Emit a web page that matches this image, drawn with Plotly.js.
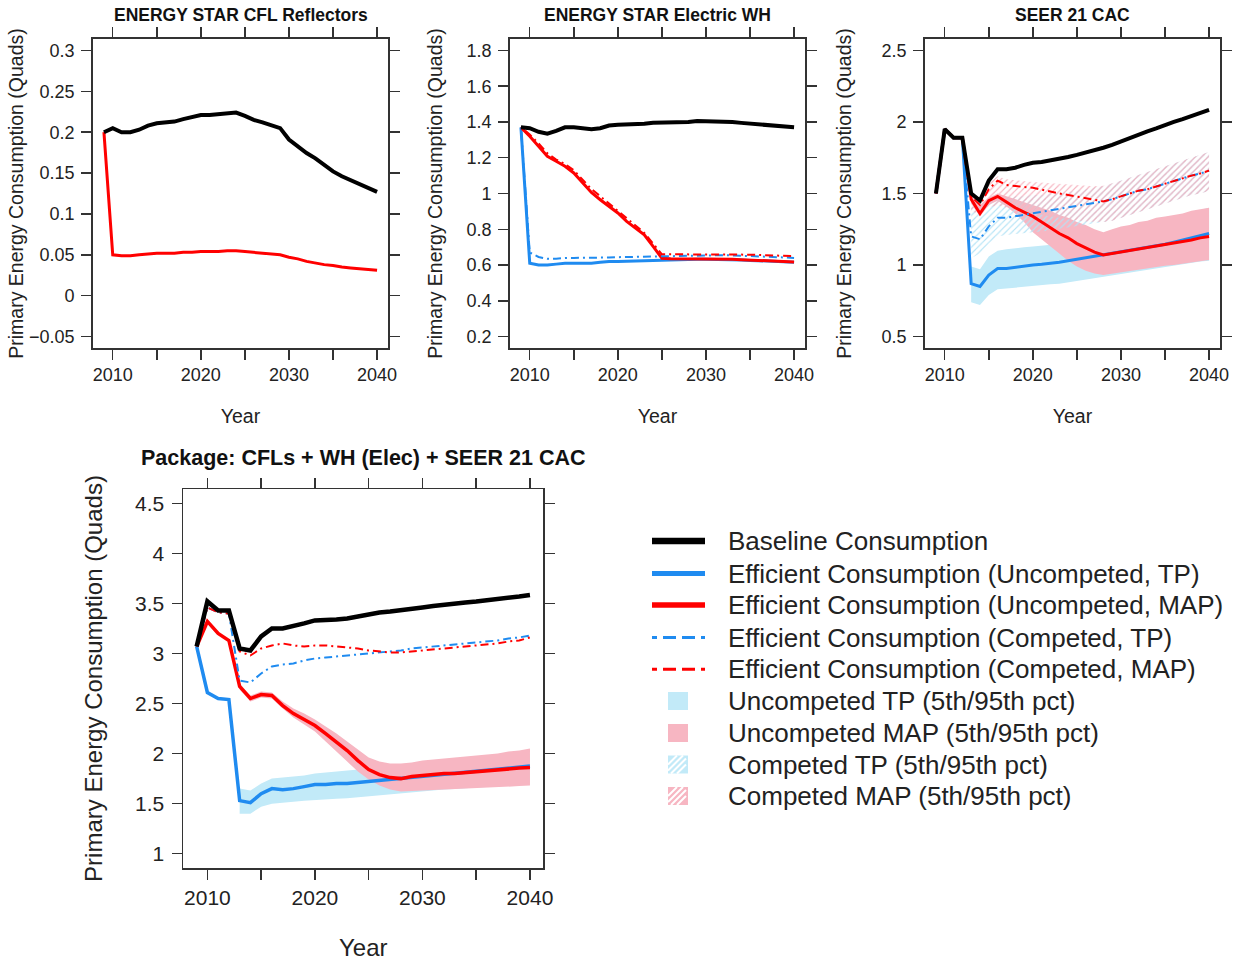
<!DOCTYPE html>
<html>
<head>
<meta charset="utf-8">
<script src="https://cdn.plot.ly/plotly-3.0.1.min.js"></script>
<style>html,body{margin:0;padding:0;background:#fff;}#chart{width:1237px;height:961px;}</style>
</head>
<body>
<div id="chart"></div>
<script>
// ---------------- DATA ----------------
const YEARS = [2009,2010,2011,2012,2013,2014,2015,2016,2017,2018,2019,2020,2021,2022,2023,2024,2025,2026,2027,2028,2029,2030,2031,2032,2033,2034,2035,2036,2037,2038,2039,2040];
const BAND_YEARS = [2013,2014,2015,2016,2017,2018,2019,2020,2021,2022,2023,2024,2025,2026,2027,2028,2029,2030,2031,2032,2033,2034,2035,2036,2037,2038,2039,2040];
const X_TICKS = [2010,2015,2020,2025,2030,2035,2040];
const X_LABELS = ['2010','','2020','','2030','','2040'];

const PANEL_TITLES = ['ENERGY STAR CFL Reflectors','ENERGY STAR Electric WH','SEER 21 CAC','Package: CFLs + WH (Elec) + SEER 21 CAC'];
const Y_TITLE = 'Primary Energy Consumption (Quads)';
const X_TITLE = 'Year';

// Panel 1: ENERGY STAR CFL Reflectors
const cfl_base = [0.2,0.205,0.2,0.2,0.203,0.208,0.211,0.212,0.213,0.216,0.219,0.221,0.221,0.222,0.222,0.224,0.22,0.215,0.212,0.208,0.205,0.191,0.182,0.1745,0.168,0.16,0.152,0.146,0.141,0.136,0.131,0.127];
const cfl_map  = [0.2,0.05,0.049,0.049,0.05,0.051,0.052,0.052,0.052,0.053,0.053,0.054,0.054,0.054,0.055,0.055,0.054,0.053,0.052,0.051,0.05,0.047,0.045,0.042,0.04,0.038,0.037,0.035,0.034,0.033,0.032,0.031];

// Panel 2: ENERGY STAR Electric WH
const wh_base = [1.37,1.365,1.345,1.335,1.35,1.37,1.37,1.365,1.36,1.365,1.38,1.385,1.385,1.39,1.39,1.395,1.395,1.395,1.4,1.4,1.405,1.405,1.405,1.4,1.4,1.395,1.39,1.385,1.38,1.375,1.37,1.37];
const wh_tp   = [1.37,0.61,0.6,0.6,0.605,0.61,0.61,0.61,0.61,0.615,0.62,0.62,0.62,0.622,0.624,0.626,0.628,0.63,0.63,0.632,0.632,0.632,0.632,0.63,0.63,0.628,0.626,0.624,0.622,0.62,0.618,0.616];
const wh_map  = [1.37,1.32,1.264,1.208,1.18,1.152,1.115,1.062,1.006,0.965,0.928,0.891,0.844,0.807,0.769,0.704,0.638,0.635,0.635,0.635,0.636,0.636,0.636,0.634,0.632,0.63,0.628,0.625,0.622,0.62,0.618,0.617];
const wh_ctp  = [1.37,0.67,0.645,0.635,0.635,0.64,0.64,0.64,0.638,0.64,0.642,0.644,0.645,0.646,0.647,0.648,0.65,0.652,0.654,0.655,0.656,0.656,0.656,0.655,0.654,0.652,0.65,0.648,0.646,0.644,0.642,0.64];
const wh_cmap = [1.37,1.33,1.28,1.225,1.19,1.165,1.13,1.08,1.025,0.985,0.945,0.905,0.86,0.82,0.78,0.72,0.66,0.66,0.66,0.66,0.662,0.662,0.662,0.662,0.66,0.66,0.658,0.656,0.655,0.654,0.652,0.65];

// Panel 3: SEER 21 CAC
const cac_base = [1.5,1.95,1.89,1.89,1.5,1.45,1.59,1.67,1.67,1.68,1.7,1.715,1.72,1.73,1.745,1.755,1.77,1.785,1.8,1.82,1.84,1.865,1.89,1.91,1.935,1.955,1.98,2.0,2.02,2.04,2.06,2.085];
const cac_tp   = [1.5,1.95,1.89,1.89,0.87,0.85,0.93,0.975,0.975,0.985,0.995,1.0,1.005,1.01,1.02,1.03,1.04,1.05,1.06,1.07,1.08,1.09,1.1,1.11,1.12,1.135,1.145,1.16,1.175,1.19,1.205,1.22];
const cac_map  = [1.5,1.95,1.89,1.89,1.46,1.36,1.45,1.48,1.44,1.4,1.37,1.34,1.3,1.26,1.22,1.19,1.15,1.12,1.09,1.07,1.08,1.09,1.1,1.11,1.12,1.13,1.14,1.15,1.165,1.175,1.19,1.2];
const cac_ctp  = [1.5,1.95,1.89,1.89,1.2,1.18,1.27,1.33,1.33,1.34,1.35,1.36,1.37,1.38,1.39,1.4,1.41,1.42,1.43,1.445,1.46,1.48,1.5,1.52,1.53,1.55,1.57,1.59,1.61,1.625,1.64,1.66];
const cac_cmap = [1.5,1.95,1.89,1.89,1.48,1.42,1.53,1.59,1.56,1.55,1.545,1.54,1.525,1.51,1.5,1.49,1.48,1.47,1.455,1.445,1.46,1.48,1.5,1.52,1.53,1.55,1.57,1.59,1.61,1.625,1.64,1.66];
const cac_tp_lo  = [0.74,0.72,0.79,0.83,0.835,0.84,0.845,0.85,0.86,0.865,0.87,0.875,0.885,0.895,0.905,0.915,0.925,0.935,0.945,0.955,0.965,0.975,0.985,0.995,1.005,1.015,1.025,1.03];
const cac_tp_hi  = [0.99,0.97,1.06,1.1,1.11,1.12,1.125,1.13,1.135,1.14,1.145,1.15,1.16,1.17,1.18,1.19,1.2,1.21,1.23,1.25,1.27,1.29,1.31,1.33,1.35,1.37,1.385,1.4];
const cac_map_lo = [1.43,1.34,1.42,1.45,1.41,1.36,1.3,1.23,1.18,1.13,1.08,1.03,0.99,0.96,0.94,0.93,0.935,0.945,0.955,0.965,0.975,0.985,0.995,1.0,1.01,1.02,1.025,1.035];
const cac_map_hi = [1.49,1.42,1.47,1.5,1.48,1.46,1.44,1.42,1.4,1.38,1.35,1.33,1.3,1.28,1.25,1.23,1.25,1.27,1.28,1.3,1.31,1.33,1.34,1.35,1.36,1.38,1.39,1.4];
const cac_ctp_lo  = [1.05,1.08,1.15,1.2,1.21,1.22,1.225,1.23,1.235,1.24,1.25,1.26,1.27,1.28,1.29,1.3,1.31,1.33,1.35,1.37,1.39,1.41,1.43,1.45,1.47,1.49,1.5,1.52];
const cac_ctp_hi  = [1.45,1.4,1.44,1.47,1.47,1.48,1.48,1.49,1.49,1.5,1.5,1.51,1.52,1.53,1.54,1.55,1.57,1.59,1.61,1.63,1.65,1.67,1.69,1.71,1.73,1.75,1.77,1.79];
const cac_cmap_lo = [1.38,1.35,1.4,1.42,1.4,1.39,1.37,1.36,1.35,1.34,1.33,1.32,1.31,1.305,1.3,1.3,1.31,1.33,1.35,1.37,1.39,1.41,1.43,1.45,1.47,1.49,1.5,1.52];
const cac_cmap_hi = [1.52,1.46,1.57,1.62,1.6,1.59,1.585,1.58,1.575,1.57,1.565,1.56,1.56,1.555,1.55,1.555,1.57,1.59,1.61,1.63,1.65,1.67,1.69,1.71,1.73,1.75,1.77,1.79];

// Panel 4: Package
const pkg_base = [3.07,3.52,3.43,3.43,3.05,3.03,3.17,3.25,3.25,3.27,3.3,3.33,3.33,3.34,3.35,3.37,3.4,3.41,3.42,3.43,3.445,3.46,3.475,3.49,3.5,3.51,3.52,3.53,3.54,3.555,3.57,3.585];
const pkg_tp   = [3.07,2.61,2.55,2.54,1.53,1.51,1.6,1.65,1.64,1.65,1.67,1.69,1.69,1.7,1.7,1.71,1.72,1.73,1.74,1.75,1.76,1.77,1.78,1.79,1.8,1.81,1.82,1.83,1.84,1.85,1.86,1.875];
const pkg_map  = [3.07,3.32,3.2,3.13,2.67,2.55,2.59,2.58,2.48,2.4,2.34,2.28,2.2,2.12,2.03,1.93,1.84,1.79,1.76,1.75,1.77,1.78,1.79,1.8,1.8,1.81,1.82,1.83,1.84,1.85,1.855,1.86];
const pkg_ctp  = [3.07,3.46,3.41,3.4,2.73,2.71,2.8,2.87,2.89,2.9,2.93,2.95,2.96,2.97,2.98,2.99,3.0,3.01,3.02,3.03,3.05,3.06,3.07,3.08,3.09,3.1,3.11,3.12,3.13,3.15,3.16,3.18];
const pkg_cmap = [3.07,3.46,3.41,3.4,3.02,2.98,3.05,3.08,3.1,3.08,3.07,3.08,3.08,3.07,3.06,3.05,3.03,3.02,3.01,3.01,3.02,3.03,3.04,3.05,3.06,3.07,3.08,3.09,3.1,3.12,3.13,3.16];
const pkg_tp_lo  = [1.4,1.4,1.47,1.5,1.51,1.52,1.53,1.54,1.545,1.55,1.555,1.56,1.57,1.58,1.59,1.6,1.61,1.62,1.63,1.64,1.645,1.65,1.66,1.665,1.67,1.68,1.69,1.7];
const pkg_tp_hi  = [1.65,1.63,1.7,1.75,1.76,1.77,1.78,1.8,1.81,1.82,1.83,1.84,1.85,1.86,1.87,1.88,1.89,1.9,1.91,1.92,1.93,1.94,1.95,1.96,1.97,1.98,1.99,2.0];
const pkg_map_lo = [2.64,2.52,2.56,2.55,2.45,2.36,2.29,2.22,2.12,2.02,1.92,1.82,1.74,1.68,1.64,1.62,1.625,1.63,1.635,1.64,1.645,1.65,1.655,1.66,1.665,1.67,1.675,1.68];
const pkg_map_hi = [2.7,2.58,2.62,2.61,2.52,2.45,2.4,2.34,2.27,2.2,2.12,2.04,1.96,1.92,1.9,1.9,1.91,1.93,1.94,1.95,1.96,1.97,1.98,1.99,2.0,2.02,2.03,2.05];

const LEGEND_LABELS = ['Baseline Consumption','Efficient Consumption (Uncompeted, TP)','Efficient Consumption (Uncompeted, MAP)','Efficient Consumption (Competed, TP)','Efficient Consumption (Competed, MAP)','Uncompeted TP (5th/95th pct)','Uncompeted MAP (5th/95th pct)','Competed TP (5th/95th pct)','Competed MAP (5th/95th pct)'];

// ---------------- STYLE ----------------
const BLACK = '#000000', BLUE = '#1f8bf0', RED = '#ff0000';
const LBLUE = '#c2eaf8', PINK = '#f7b6c2';
const HATCH_BLUE = '#b3e3f5', HATCH_PINK = '#f6b0bd';
const DASHDOT = '2px,4px,8px,4px';
const LEG_DASH = '5px,6px,13px,6px,13px,6px,4px';
const FONT = 'Liberation Sans, Arial, Helvetica, sans-serif';
const W = 1237, H = 961;
const fx = v => v / W, fy = v => 1 - v / H;

function line(ax, x, y, color, width, dash) {
  return {type:'scatter', mode:'lines', x:x, y:y, xaxis:'x'+ax, yaxis:'y'+ax,
    line:{color:color, width:width, dash:dash||'solid'}, hoverinfo:'skip', showlegend:false};
}
function band(ax, x, lo, hi, color, pattern) {
  const t = {type:'scatter', mode:'lines', x:x.concat(x.slice().reverse()), y:hi.concat(lo.slice().reverse()),
    xaxis:'x'+ax, yaxis:'y'+ax, fill:'toself', line:{width:0, color:'rgba(0,0,0,0)'},
    fillcolor: pattern ? 'rgba(0,0,0,0)' : color, hoverinfo:'skip', showlegend:false};
  if (pattern) t.fillpattern = {shape:'/', fgcolor:color, bgcolor:'rgba(0,0,0,0)', size:4.5, solidity:0.25};
  return t;
}
const ax1 = '', ax2 = '2', ax3 = '3', ax4 = '4';
const traces = [
  // panel 1
  line(ax1, YEARS, cfl_map, RED, 3),
  line(ax1, YEARS, cfl_base, BLACK, 4),
  // panel 2
  line(ax2, YEARS, wh_tp, BLUE, 3),
  line(ax2, YEARS, wh_map, RED, 3),
  line(ax2, YEARS, wh_ctp, BLUE, 2, DASHDOT),
  line(ax2, YEARS, wh_cmap, RED, 2, DASHDOT),
  line(ax2, YEARS, wh_base, BLACK, 4),
  // panel 3
  band(ax3, BAND_YEARS, cac_tp_lo, cac_tp_hi, LBLUE),
  band(ax3, BAND_YEARS, cac_map_lo, cac_map_hi, PINK),
  band(ax3, BAND_YEARS, cac_ctp_lo, cac_ctp_hi, HATCH_BLUE, true),
  band(ax3, BAND_YEARS, cac_cmap_lo, cac_cmap_hi, HATCH_PINK, true),
  line(ax3, YEARS, cac_tp, BLUE, 3),
  line(ax3, YEARS, cac_map, RED, 3),
  line(ax3, YEARS, cac_ctp, BLUE, 2, DASHDOT),
  line(ax3, YEARS, cac_cmap, RED, 2, DASHDOT),
  line(ax3, YEARS, cac_base, BLACK, 4),
  // panel 4
  band(ax4, BAND_YEARS, pkg_tp_lo, pkg_tp_hi, LBLUE),
  band(ax4, BAND_YEARS, pkg_map_lo, pkg_map_hi, PINK),
  line(ax4, YEARS, pkg_tp, BLUE, 3.5),
  line(ax4, YEARS, pkg_map, RED, 3.5),
  line(ax4, YEARS, pkg_ctp, BLUE, 2, DASHDOT),
  line(ax4, YEARS, pkg_cmap, RED, 2, DASHDOT),
  line(ax4, YEARS, pkg_base, BLACK, 4.5)
];

function xAxis(x0, x1, anchor, fs, tfs, standoff) {
  return {domain:[fx(x0), fx(x1)], anchor:anchor, range:[2007.76, 2041.24], tickmode:'array', tickvals:X_TICKS, ticktext:X_LABELS,
    ticks:'outside', ticklen:10, tickwidth:1.5, tickcolor:'#333', showline:true, linewidth:1.8, linecolor:'#333', mirror:'allticks',
    showgrid:false, zeroline:false, tickfont:{size:fs, color:'#222'}, ticklabelstandoff:0,
    title:{text:X_TITLE, font:{size:tfs, color:'#222'}, standoff:standoff}};
}
function yAxis(y0, y1, anchor, range, dtick, fs, tfs, standoff) {
  return {domain:[fy(y1), fy(y0)], anchor:anchor, range:range, tickmode:'linear', tick0:0, dtick:dtick,
    ticks:'outside', ticklen:10, tickwidth:1.5, tickcolor:'#333', showline:true, linewidth:1.8, linecolor:'#333', mirror:'allticks',
    showgrid:false, zeroline:false, tickfont:{size:fs, color:'#222'}, ticklabelstandoff:3,
    title:{text:Y_TITLE, font:{size:tfs, color:'#222'}, standoff:standoff}};
}

const layout = {
  width:W, height:H, margin:{l:0, r:0, t:0, b:0}, paper_bgcolor:'#fff', plot_bgcolor:'#fff',
  font:{family:FONT, color:'#222'}, showlegend:false,
  xaxis:  xAxis(93, 388, 'y', 18, 19.5, 25),
  yaxis:  yAxis(39, 348, 'x', [-0.064, 0.314], 0.05, 18, 19.5, 0),
  xaxis2: xAxis(510, 805, 'y2', 18, 19.5, 25),
  yaxis2: yAxis(39, 348, 'x2', [0.136, 1.864], 0.2, 18, 19.5, 19),
  xaxis3: xAxis(925, 1220, 'y3', 18, 19.5, 25),
  yaxis3: yAxis(39, 348, 'x3', [0.42, 2.58], 0.5, 18, 19.5, 25),
  xaxis4: xAxis(183.3, 543.3, 'y4', 21, 24, 36),
  yaxis4: yAxis(489.3, 867.7, 'x4', [0.86, 4.64], 0.5, 21, 24, 26),
  annotations:[], shapes:[]
};
// panel titles
const titlePos = [[240.5,15,17.5],[657.5,15,17.5],[1072.5,15,17.5],[363.3,458,21.5]];
PANEL_TITLES.forEach((t,i)=>{
  layout.annotations.push({text:'<b>'+t+'</b>', x:fx(titlePos[i][0]), y:fy(titlePos[i][1]), xref:'paper', yref:'paper',
    xanchor:'center', yanchor:'middle', showarrow:false, font:{size:titlePos[i][2], color:'#111'}});
});

// ---------------- LEGEND (drawn) ----------------
const rows = [541, 573.5, 605, 637.5, 669.3, 701, 733, 764.5, 796];
const legLines = [[BLACK,6.5,'solid'],[BLUE,5,'solid'],[RED,5.5,'solid'],[BLUE,3,LEG_DASH],[RED,3,LEG_DASH]];
LEGEND_LABELS.forEach((lab,i)=>{
  const y = rows[i];
  layout.annotations.push({text:lab, x:fx(726), y:fy(y), xref:'paper', yref:'paper', xanchor:'left', yanchor:'middle',
    showarrow:false, font:{size:26, color:'#222'}});
  if (i < 5) {
    const s = legLines[i];
    layout.shapes.push({type:'line', xref:'paper', yref:'paper', x0:fx(652), x1:fx(705), y0:fy(y), y1:fy(y),
      line:{color:s[0], width:s[1], dash:s[2]}});
  } else {
    const c = [LBLUE, PINK, LBLUE, PINK][i-5];
    const x0 = 668, x1 = 688, y0 = y-9, y1 = y+9;
    layout.shapes.push({type:'rect', xref:'paper', yref:'paper', x0:fx(x0), x1:fx(x1), y0:fy(y1), y1:fy(y0),
      fillcolor:c, line:{width:0}});
    if (i >= 7) {
      [-9, -3, 3, 9].forEach(o=>{
        const ax = x0 + Math.max(0, o), ay = y1 - Math.max(0, -o);
        const bx = x1 - Math.max(0, -o) - 2, by = y0 + Math.max(0, o);
        layout.shapes.push({type:'line', xref:'paper', yref:'paper', x0:fx(ax), y0:fy(ay), x1:fx(bx), y1:fy(by),
          line:{color:'#ffffff', width:2}});
      });
    }
  }
});

Plotly.newPlot('chart', traces, layout, {displayModeBar:false, staticPlot:true});
</script>
</body>
</html>
